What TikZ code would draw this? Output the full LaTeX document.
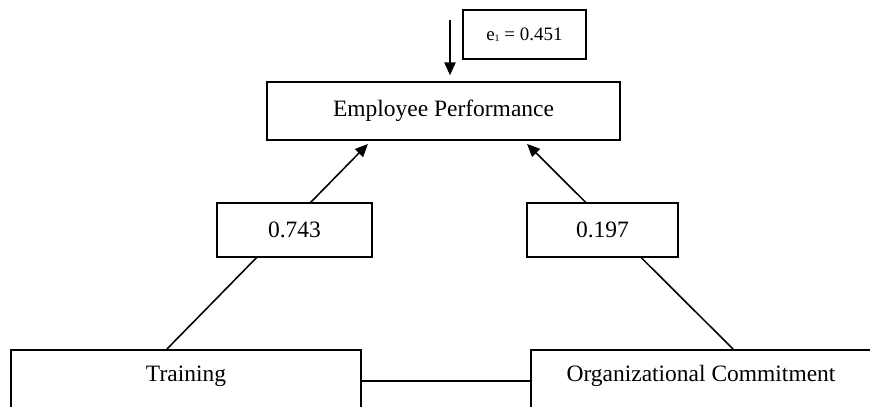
\documentclass[tikz,border=0pt]{standalone}
\usepackage{fontspec}
\setmainfont{Liberation Serif}
\usetikzlibrary{positioning, arrows.meta}

\begin{document}
\begin{tikzpicture}[
  font=\fontsize{16.7}{20}\selectfont,
  box/.style={draw, line width=1.1pt, inner xsep=2mm, inner ysep=1mm, align=center},
  varbox/.style={box, text height=0.69cm, text depth=0.66cm, anchor=north},
  coef/.style={box, fill=white, minimum height=1.35cm},
  link/.style={-{Triangle[length=3.2mm, width=2.8mm]}, line width=1.1pt},
]
\useasboundingbox (0,0) rectangle (21.75,10.15);
% dependent variable and its error term
\node[box, minimum width=8.825cm, minimum height=1.45cm] (emp) at (11.0875, 7.375) {Employee Performance};
\node[box, minimum width=3.075cm, minimum height=1.225cm, font=\fontsize{13.5}{16}\selectfont] (err) at (13.11, 9.29) {e{\fontsize{7}{8}\selectfont\raisebox{-0.3ex}{1}} = 0.451};
\coordinate (errtop) at (11.25, 9.65);
\draw[link, shorten >=1.5mm] (errtop) -- (errtop |- emp.north);
% independent variables
\node[varbox, minimum width=8.75cm] (train) at (4.65, 1.425) {Training};
\node[varbox, minimum width=8.5cm] (org) at (17.525, 1.425) {Organizational Commitment};
\draw[line width=1.1pt] (train.east) -- (org.west);
% paths
\draw[link] ([xshift=-4.75mm]train.north) -- ([xshift=-18.9mm, yshift=-0.8mm]emp.south);
\draw[link] ([xshift=8mm]org.north) -- ([xshift=20.9mm, yshift=-0.8mm]emp.south);
% coefficients
\node[coef, minimum width=3.875cm] (ctrain) at (7.3625, 4.4) {0.743};
\node[coef, minimum width=3.775cm] (corg) at (15.0625, 4.4) {0.197};
\end{tikzpicture}
\end{document}
